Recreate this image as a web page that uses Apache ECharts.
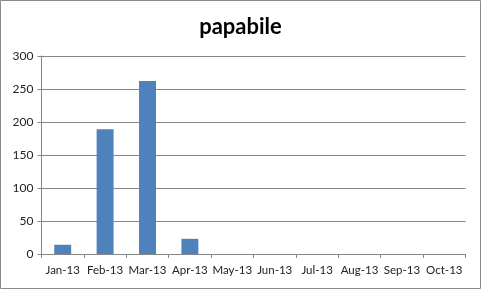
<!DOCTYPE html>
<html><head><meta charset="utf-8">
<script src="https://cdn.jsdelivr.net/npm/echarts@6/dist/echarts.min.js"></script>
<style>html,body{margin:0;padding:0;background:#fff}#c{width:481px;height:289px}</style>
</head><body><div id="c"></div>
<script>
var categories = ['Jan-13','Feb-13','Mar-13','Apr-13','May-13','Jun-13','Jul-13','Aug-13','Sep-13','Oct-13'];
var values = [14, 189, 262, 23, 0, 0, 0, 0, 0, 0];
var yTicks = [0, 50, 100, 150, 200, 250, 300];
var chart = echarts.init(document.getElementById('c'), null, {renderer:'canvas'});
var font = 'Lato, "Open Sans", sans-serif';
chart.setOption({
  animation:false,
  title:{text:'papabile', left:'center', top:11, textStyle:{fontFamily:font, fontWeight:'bold', fontSize:22, color:'#000'}},
  graphic:[{type:'rect', shape:{x:0.5,y:0.5,width:480,height:288}, style:{fill:'none', stroke:'#8a8a8a', lineWidth:1}, silent:true}],
  grid:{left:41.5, right:15.5, top:56, bottom:35, containLabel:false},
  xAxis:{type:'category', data:categories, boundaryGap:true,
    axisLine:{lineStyle:{color:'#868686'}},
    axisTick:{show:true, length:4, lineStyle:{color:'#868686'}},
    axisLabel:{interval:0, fontFamily:font, fontSize:11.5, color:'#222', margin:10}},
  yAxis:{type:'value', min:yTicks[0], max:yTicks[yTicks.length-1], interval:50,
    axisLine:{show:true, lineStyle:{color:'#868686'}},
    axisTick:{show:true, length:4, lineStyle:{color:'#868686'}},
    splitLine:{lineStyle:{color:'#868686'}},
    axisLabel:{fontFamily:font, fontSize:12, color:'#222', margin:8}},
  series:[{type:'bar', data:values, barWidth:'40%', itemStyle:{color:'#4F81BD'}}]
});
</script></body></html>
